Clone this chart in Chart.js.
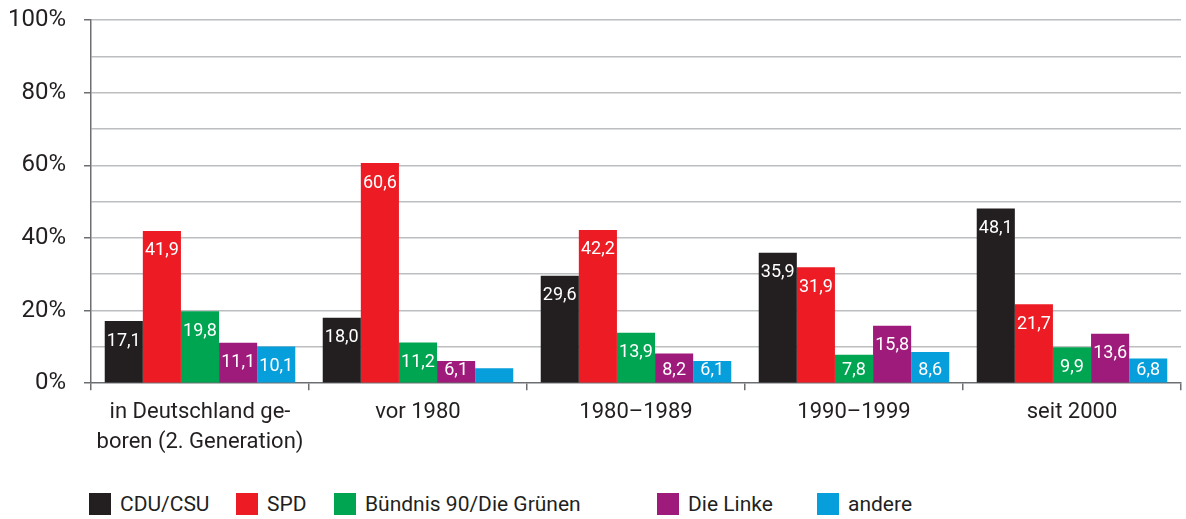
<!DOCTYPE html>
<html lang="de">
<head>
<meta charset="utf-8">
<title>Parteipräferenz nach Zuzugszeitraum</title>
<script src="https://cdn.jsdelivr.net/npm/chart.js@4.4.1/dist/chart.umd.min.js"></script>
<style>
    body { margin: 0; background: #fff; font-family: Roboto, sans-serif; color: #231f20; }
    #wrap { position: relative; width: 1186px; height: 519px; }
    #chartBox { position: absolute; left: 0; top: 0; width: 1186px; height: 470px; }
    #legend { position: absolute; left: 0; top: 493px; width: 1186px; height: 22px; }
    .item { position: absolute; top: 0; display: flex; align-items: center; height: 22px; font-size: 21px; white-space: nowrap; }
    .swatch { width: 22px; height: 22px; margin-right: 9px; }
</style>
</head>
<body>
<div id="wrap">
    <div id="chartBox"><canvas id="chart"></canvas></div>
    <div id="legend"></div>
</div>
<script>
// Data
const categories = [['in Deutschland ge-', 'boren (2. Generation)'], 'vor 1980', '1980–1989', '1990–1999', 'seit 2000'];
const seriesNames = ['CDU/CSU', 'SPD', 'Bündnis 90/Die Grünen', 'Die Linke', 'andere'];
const cduCsu = [17.1, 18.0, 29.6, 35.9, 48.1];
const spd = [41.9, 60.6, 42.2, 31.9, 21.7];
const gruene = [19.8, 11.2, 13.9, 7.8, 9.9];
const linke = [11.1, 6.1, 8.2, 15.8, 13.6];
const andere = [10.1, 4.1, 6.1, 8.6, 6.8];
const yTicks = [0, 20, 40, 60, 80, 100];

const colors = ['#231f20', '#ed1c24', '#00a551', '#9e1b7b', '#069edb'];
const legendX = [89, 236, 334, 657, 817];
const axisColor = '#6d6e71';
const gridColor = '#bcbec0';
const textColor = '#231f20';

// Value labels inside the bars (small bars stay unlabelled)
const barLabels = {
    id: 'barLabels',
    afterDatasetsDraw(chart) {
        const ctx = chart.ctx;
        ctx.save();
        ctx.font = '18px Roboto, sans-serif';
        ctx.fillStyle = '#ffffff';
        ctx.textAlign = 'center';
        ctx.textBaseline = 'middle';
        chart.data.datasets.forEach((ds, i) => {
            chart.getDatasetMeta(i).data.forEach((bar, j) => {
                const v = ds.data[j];
                if (v < 5) return;
                const y = Math.min(bar.y + 20, bar.base - 12);
                ctx.fillText(v.toFixed(1).replace('.', ','), bar.x, y);
            });
        });
        ctx.restore();
    }
};

const allSeries = [cduCsu, spd, gruene, linke, andere];

new Chart(document.getElementById('chart'), {
    type: 'bar',
    data: {
        labels: categories,
        datasets: allSeries.map((values, i) => ({
            label: seriesNames[i],
            data: values,
            backgroundColor: colors[i],
            borderWidth: 0,
            categoryPercentage: 0.874,
            barPercentage: 1
        }))
    },
    options: {
        responsive: true,
        maintainAspectRatio: false,
        animation: false,
        layout: { padding: { left: 0, right: 5, top: 20, bottom: 6 } },
        plugins: {
            legend: { display: false },
            tooltip: { enabled: false }
        },
        scales: {
            x: {
                grid: {
                    drawOnChartArea: false,
                    color: axisColor,
                    tickLength: 7,
                    lineWidth: 1.5
                },
                border: { color: axisColor, width: 1.5 },
                ticks: {
                    color: textColor,
                    padding: 7,
                    font: { family: 'Roboto', size: 22, lineHeight: 1.36 }
                },
                afterFit: s => { s.paddingLeft = 0; s.paddingRight = 0; }
            },
            y: {
                min: yTicks[0],
                max: yTicks[yTicks.length - 1],
                ticks: {
                    stepSize: 10,
                    padding: 18,
                    color: textColor,
                    font: { family: 'Roboto', size: 24 },
                    callback: v => yTicks.includes(v) ? v + '%' : ''
                },
                grid: {
                    color: c => c.tick && c.tick.value === 0 ? 'transparent' : gridColor,
                    tickColor: c => c.tick && yTicks.includes(c.tick.value) ? axisColor : 'transparent',
                    tickLength: 7,
                    lineWidth: 1.5
                },
                border: { color: axisColor, width: 1.5 },
                afterFit: s => { s.width = 91; s.paddingTop = 0; s.paddingBottom = 0; }
            }
        }
    },
    plugins: [barLabels]
});

// Legend
const legend = document.getElementById('legend');
seriesNames.forEach((name, i) => {
    const item = document.createElement('div');
    item.className = 'item';
    item.style.left = legendX[i] + 'px';
    item.innerHTML = `<span class="swatch" style="background:${colors[i]}"></span><span>${name}</span>`;
    legend.appendChild(item);
});
</script>
</body>
</html>
